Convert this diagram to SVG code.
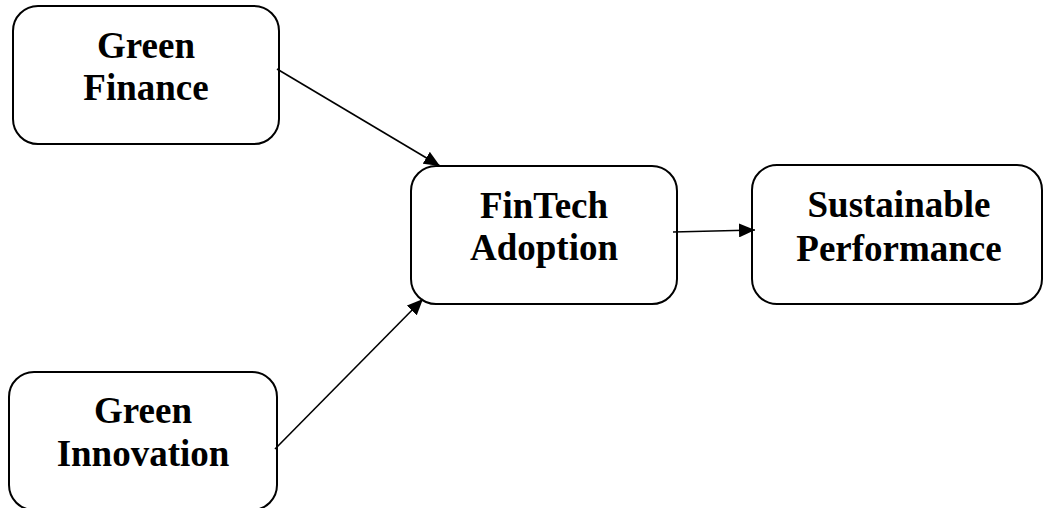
<svg xmlns="http://www.w3.org/2000/svg" width="1043" height="508" viewBox="0 0 1043 508">
  <style>
    .box { fill: #ffffff; stroke: #000000; stroke-width: 2; }
    .label { font-family: "Liberation Serif", "Times New Roman", serif; font-weight: bold; font-size: 37px; fill: #000000; text-anchor: middle; }
    .link { stroke: #000000; stroke-width: 1.6; fill: none; marker-end: url(#arrow); }
  </style>
  <defs>
    <marker id="arrow" markerUnits="userSpaceOnUse" markerWidth="18" markerHeight="14" refX="16" refY="7" orient="auto">
      <path d="M0,0 L16,7 L0,14 Z" fill="#000000"/>
    </marker>
  </defs>
  <rect width="1043" height="508" fill="#ffffff"/>

  <g id="green-finance">
    <rect class="box" x="13" y="6" width="266" height="138" rx="25" ry="25"/>
    <text class="label" x="146" y="58">Green</text>
    <text class="label" x="146" y="100">Finance</text>
  </g>

  <g id="green-innovation">
    <rect class="box" x="9" y="372" width="268" height="138" rx="25" ry="25"/>
    <text class="label" x="143" y="423">Green</text>
    <text class="label" x="143" y="466">Innovation</text>
  </g>

  <g id="fintech-adoption">
    <rect class="box" x="411" y="166" width="266" height="138" rx="25" ry="25"/>
    <text class="label" x="544" y="218">FinTech</text>
    <text class="label" x="544" y="260">Adoption</text>
  </g>

  <g id="sustainable-performance">
    <rect class="box" x="752" y="165" width="290" height="139" rx="25" ry="25"/>
    <text class="label" x="899" y="217">Sustainable</text>
    <text class="label" x="899" y="261">Performance</text>
  </g>

  <g id="connectors">
    <line class="link" x1="277" y1="69" x2="440" y2="166"/>
    <line class="link" x1="275" y1="449" x2="423" y2="299"/>
    <line class="link" x1="673" y1="232" x2="755" y2="230"/>
  </g>
</svg>
